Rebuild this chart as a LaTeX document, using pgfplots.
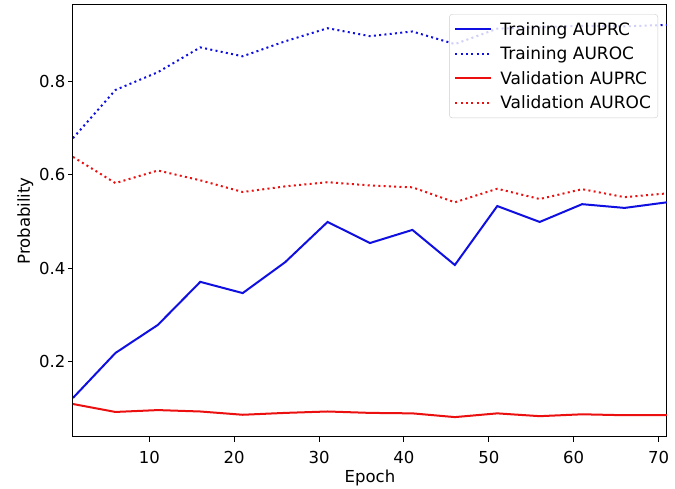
\documentclass[border=0pt]{standalone}
\usepackage{pgfplots}
\pgfplotsset{compat=1.18}
\usepackage{fontspec}
\setmainfont{DejaVu Sans}
\definecolor{mblue}{RGB}{15,15,225}
\definecolor{mred}{RGB}{235,15,15}
\pgfplotstableread{
x   tauprc tauroc vauprc vauroc
1   0.123  0.678  0.110  0.638
6   0.219  0.781  0.093  0.582
11  0.279  0.819  0.097  0.609
16  0.371  0.872  0.094  0.588
21  0.347  0.853  0.087  0.563
26  0.413  0.885  0.091  0.575
31  0.499  0.913  0.094  0.584
36  0.454  0.896  0.091  0.577
41  0.482  0.906  0.090  0.573
46  0.407  0.879  0.082  0.541
51  0.533  0.912  0.090  0.570
56  0.499  0.915  0.084  0.548
61  0.537  0.918  0.088  0.569
66  0.529  0.917  0.086  0.552
71  0.541  0.920  0.086  0.560
}\data
\begin{document}
\begin{tikzpicture}[font=\fontsize{16.5}{19}\selectfont]
\begin{axis}[
  at={(0pt,0pt)}, anchor=south west,
  scale only axis, width=594pt, height=432pt,
  xmin=1, xmax=71, ymin=0.0395, ymax=0.9626,
  xtick={10,20,...,70},
  ytick={0.2,0.4,0.6,0.8},
  yticklabel style={/pgf/number format/fixed,/pgf/number format/precision=1,/pgf/number format/fixed zerofill, xshift=1pt},
  xticklabel style={yshift=-6pt},
  /pgf/number format/assume math mode=true,
  tick align=outside, major tick length=5pt,
  tick style={black, line width=0.9pt},
  xtick pos=bottom, ytick pos=left,
  axis line style={black, line width=1pt},
  xlabel={Epoch}, ylabel={Probability},
  xlabel style={yshift=1pt},
  ylabel style={yshift=-1pt},
  legend cell align=left,
  legend style={at={(0.985,0.979)}, anchor=north east, fill=white, fill opacity=0.8, text opacity=1,
    draw=black!20, rounded corners=3pt, inner xsep=5pt, inner ysep=6pt,
    row sep=6pt, font=\fontsize{17}{19}\selectfont},
  legend image code/.code={\draw[#1] (0pt,0pt) -- (36pt,0pt); \path (42pt,0pt);},
  every axis plot/.append style={line width=2pt, line cap=butt},
]
\addplot[mblue, no markers] table[x=x, y=tauprc] {\data};
\addlegendentry{Training AUPRC}
\addplot[mblue, no markers, dash pattern=on 2pt off 3.3pt] table[x=x, y=tauroc] {\data};
\addlegendentry{Training AUROC}
\addplot[mred, no markers] table[x=x, y=vauprc] {\data};
\addlegendentry{Validation AUPRC}
\addplot[mred, no markers, dash pattern=on 2pt off 3.3pt] table[x=x, y=vauroc] {\data};
\addlegendentry{Validation AUROC}
\end{axis}
\pgfresetboundingbox
\path[use as bounding box] (-73pt,-52pt) rectangle (602pt,437pt);
\end{tikzpicture}
\end{document}
